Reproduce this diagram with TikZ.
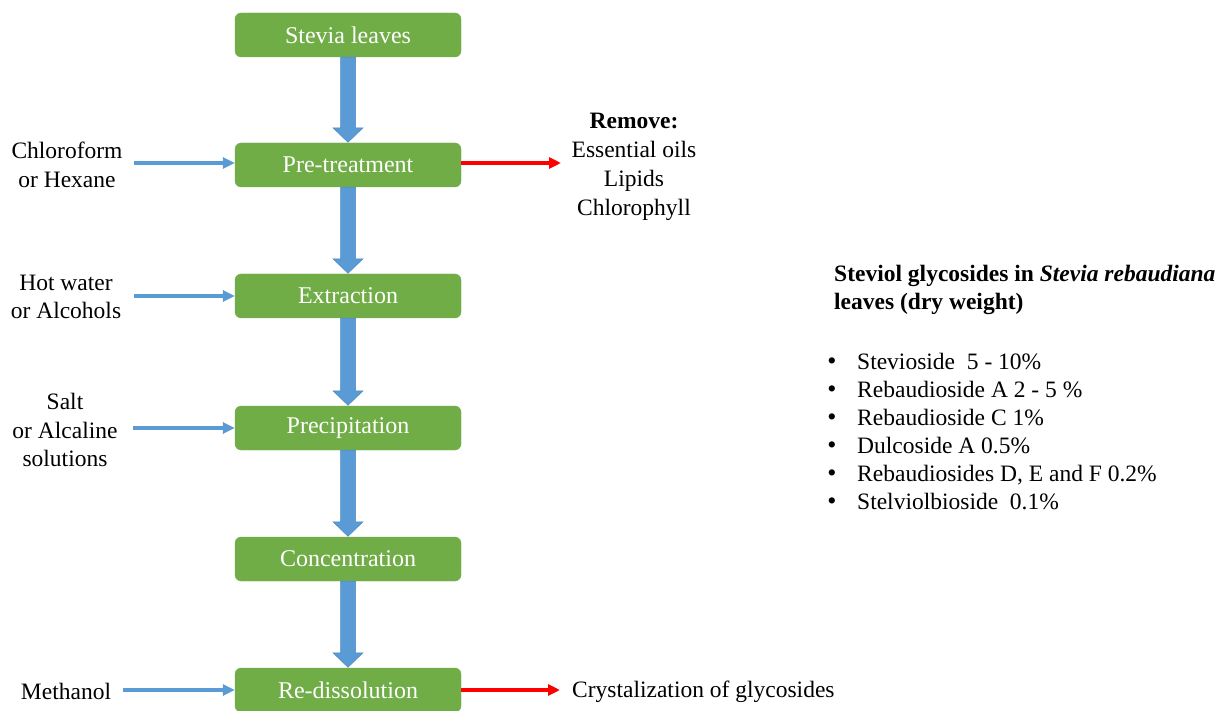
\documentclass[tikz,border=0pt]{standalone}
\usepackage{fontspec}
\setmainfont{Liberation Serif}
\usetikzlibrary{arrows.meta,calc}
\definecolor{boxgreen}{HTML}{70AD47}
\definecolor{flowblue}{HTML}{5B9BD5}
\definecolor{flowblueedge}{HTML}{4A89C4}
\definecolor{outred}{HTML}{FF0000}
\tikzset{
  stepbox/.style={rectangle, rounded corners=6pt, fill=boxgreen, draw=boxgreen!95!white,
    minimum width=226pt, minimum height=44pt, inner sep=0pt, text=white,
    font=\fontsize{24}{28}\selectfont},
  sidetext/.style={align=center, font=\fontsize{23.5}{28.8}\selectfont, inner sep=0pt},
  inarrow/.style={draw=flowblue, line width=3.2pt, -{Triangle[length=12pt,width=11pt]}},
  outarrow/.style={draw=outred, line width=3.2pt, -{Triangle[length=12pt,width=11pt]}},
  listtext/.style={anchor=base west, inner sep=0pt, font=\fontsize{23.5}{28}\selectfont},
  bullettext/.style={anchor=base, inner sep=0pt, font=\fontsize{26}{28}\selectfont},
}
\newcommand\blockarrow[2]{%
  \path let \p1=(#1.south), \p2=(#2.north) in
    [fill=flowblue, draw=flowblueedge, line width=0.5pt]
    (\x1-7.5pt,\y1) -- (\x1+7.5pt,\y1) -- (\x1+7.5pt,\y2+15pt) -- (\x1+15pt,\y2+15pt)
    -- (\x1,\y2+0.5pt) -- (\x1-15pt,\y2+15pt) -- (\x1-7.5pt,\y2+15pt) -- cycle;}
\begin{document}
\begin{tikzpicture}[x=1pt,y=-1pt]
\useasboundingbox (0,0) rectangle (1224,711);
\fill[white] (0,0) rectangle (1224,711);

% process boxes
\node[stepbox] (leaves) at (348,35) {Stevia leaves};
\node[stepbox] (pre)    at (348,165) {Pre-treatment};
\node[stepbox] (ext)    at (348,296) {Extraction};
\node[stepbox] (prec)   at (348,428) {Precipitation};
\node[stepbox] (conc)   at (348,559) {Concentration};
\node[stepbox] (redis)  at (348,690) {Re-dissolution};

% block arrows
\blockarrow{leaves}{pre}
\blockarrow{pre}{ext}
\blockarrow{ext}{prec}
\blockarrow{prec}{conc}
\blockarrow{conc}{redis}

% inputs
\node[sidetext] (chl) at (67,165) {Chloroform\\or Hexane};
\node[sidetext] (hot) at (66,297) {Hot water\\or Alcohols};
\node[sidetext] (salt) at (65,430) {Salt\\or Alcaline\\solutions};
\node[sidetext] (meth) at (66,691) {Methanol};

\coordinate (i1) at (134,163);
\coordinate (i2) at (134,296);
\coordinate (i3) at (133,428);
\coordinate (i4) at (123,690);
\draw[inarrow] (i1) -- (i1 -| pre.west);
\draw[inarrow] (i2) -- (i2 -| ext.west);
\draw[inarrow] (i3) -- (i3 -| prec.west);
\draw[inarrow] (i4) -- (i4 -| redis.west);

% outputs
\node[sidetext] (rem) at (634,167) {\textbf{Remove:}\\Essential oils\\Lipids\\Chlorophyll};
\node[sidetext, anchor=west] (cryst) at (572,692) {Crystalization of glycosides};
\coordinate (o1) at (561,163);
\coordinate (o2) at (560,690);
\draw[outarrow] (o1 -| pre.east) -- (o1);
\draw[outarrow] (o2 -| redis.east) -- (o2);

% steviol glycosides panel
\node[anchor=base west, inner sep=0pt, align=left, font=\fontsize{23.5}{28}\selectfont\bfseries]
  (head) at (834,310) {Steviol glycosides in \textit{Stevia rebaudiana}\\leaves (dry weight)};

\node[listtext] (l1) at (857,370) {Stevioside\ \ 5 - 10\%};
\node[listtext] (l2) at (857,397.8) {Rebaudioside A 2 - 5 \%};
\node[listtext] (l3) at (857,425.6) {Rebaudioside C 1\%};
\node[listtext] (l4) at (857,453.4) {Dulcoside A 0.5\%};
\node[listtext] (l5) at (857,481.2) {Rebaudiosides D, E and F 0.2\%};
\node[listtext] (l6) at (857,509) {Stelviolbioside\ \ 0.1\%};
\foreach \i in {1,...,6} {\node[bullettext] at (l\i.base west) [xshift=-25pt] {•};}
\end{tikzpicture}
\end{document}
